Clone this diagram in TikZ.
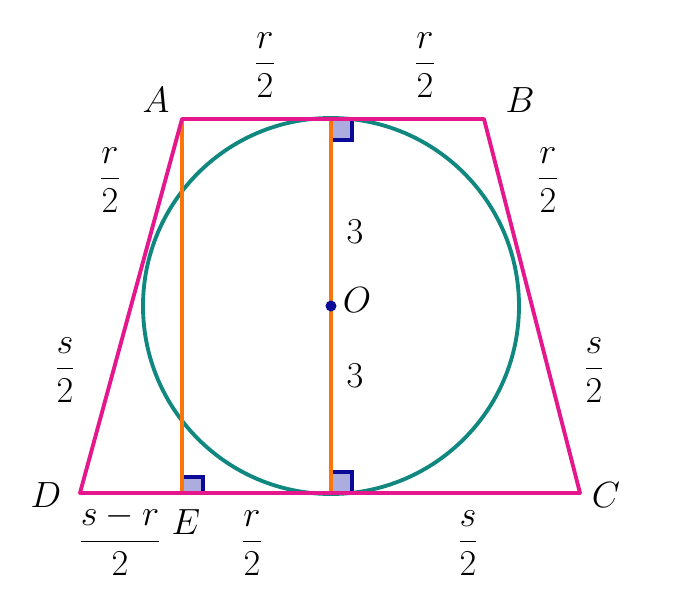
\documentclass[tikz,border=0pt]{standalone}
\usepackage{tikz}
\usetikzlibrary{calc,backgrounds}
\usepackage{amssymb}
\usepackage{amsmath}
\definecolor{sidepink}{RGB}{228,24,140}
\definecolor{circteal}{RGB}{16,136,128}
\definecolor{segorange}{RGB}{250,118,10}
\definecolor{markblue}{RGB}{10,10,150}
\definecolor{markfill}{RGB}{172,172,222}
\begin{document}
\begin{tikzpicture}[x=0.02cm,y=-0.02cm,
  lbl/.style={font=\fontsize{22}{26}\selectfont},
  side/.style={sidepink,line width=2.2pt,line join=round},
  seg/.style={segorange,line width=2.2pt},
  rmark/.style={markblue,line width=2pt}]
\useasboundingbox (0,0) rectangle (684,599);
% vertices
\coordinate (A) at (182,119);
\coordinate (B) at (484,119);
\coordinate (C) at (580,493);
\coordinate (D) at (80,493);
\coordinate (E) at (182,493);
\coordinate (O) at (331,306);
\coordinate (T) at (331,119);
\coordinate (F) at (331,493);
% right angle marks
\fill[markfill] (T) rectangle ++(21,21);
\draw[rmark] ($(T)+(21,0)$) -- ++(0,21) -- ++(-21,0);
\fill[markfill] (F) rectangle ++(21,-21);
\draw[rmark] ($(F)+(0,-21)$) -- ++(21,0) -- ++(0,21);
\fill[markfill] (E) rectangle ++(21,-16);
\draw[rmark] ($(E)+(0,-16)$) -- ++(21,0) -- ++(0,16);
% circle and segments
\draw[circteal,line width=2.2pt] (O) circle (188);
\draw[seg] (A) -- (E);
\draw[seg] (T) -- (F);
\draw[side] (A) -- (B) -- (C) -- (D) -- cycle;
\fill[markblue] (O) circle (5.5);
% labels
\node[lbl] (lA) at (156,100) {$A$};
\node[lbl] (lB) at (520,100) {$B$};
\node[lbl] (lC) at (606,495) {$C$};
\node[lbl] (lD) at (46,495) {$D$};
\node[lbl] (lE) at (186,522) {$E$};
\node[lbl] (lO) at (357,300) {$O$};
\node[lbl] (ab1) at (265,65) {$\dfrac{r}{2}$};
\node[lbl] (ab2) at (425,65) {$\dfrac{r}{2}$};
\node[lbl] (ad1) at (110,180) {$\dfrac{r}{2}$};
\node[lbl] (bc1) at (548,180) {$\dfrac{r}{2}$};
\node[lbl] (ad2) at (65,370) {$\dfrac{s}{2}$};
\node[lbl] (bc2) at (594,370) {$\dfrac{s}{2}$};
\node[lbl] (h1) at (355,232) {$3$};
\node[lbl] (h2) at (355,376) {$3$};
\node[lbl] (dc1) at (120,540) {$\dfrac{s-r}{2}$};
\node[lbl] (dc2) at (252,543) {$\dfrac{r}{2}$};
\node[lbl] (dc3) at (468,543) {$\dfrac{s}{2}$};
\end{tikzpicture}
\end{document}
